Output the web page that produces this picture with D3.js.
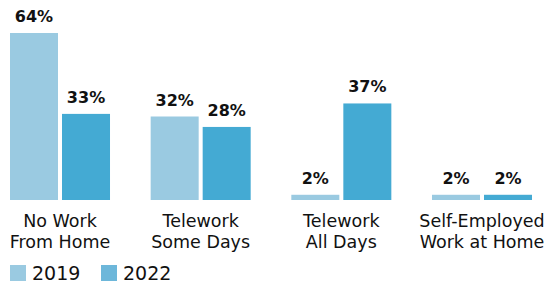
<!DOCTYPE html>
<html>
<head>
<meta charset="utf-8">
<script src="https://cdn.jsdelivr.net/npm/d3@7"></script>
<style>
  body { margin: 0; background: #fff; }
  text { font-family: "DejaVu Sans", sans-serif; fill: #111; }
</style>
</head>
<body>
<div id="chart"></div>
<script>
const categories = [
    ["No Work", "From Home"],
    ["Telework", "Some Days"],
    ["Telework", "All Days"],
    ["Self-Employed", "Work at Home"]
];
const years = ["2019", "2022"];
const values2019 = [64, 32, 2, 2];
const values2022 = [33, 28, 37, 2];

const width = 547,
    height = 285;

const barColor = { "2019": "#9acae1", "2022": "#44aad3" };
const legendColor = { "2019": "#9acae1", "2022": "#6db7da" };

const svg = d3.select("#chart").append("svg")
    .attr("width", width)
    .attr("height", height);

const data = categories.map((c, i) => ({
    key: i,
    label: c,
    values: [
        { year: "2019", v: values2019[i] },
        { year: "2022", v: values2022[i] }
    ]
}));

const x0 = d3.scaleBand()
    .domain(data.map(d => d.key))
    .range([10, 532])
    .paddingInner(0.289)
    .paddingOuter(0);

const x1 = d3.scaleBand()
    .domain(years)
    .range([0, x0.bandwidth()])
    .paddingInner(0.077);

const baseline = 200;
const y = d3.scaleLinear()
    .domain([0, 64])
    .range([baseline, 33]);

const groups = svg.selectAll("g.group")
    .data(data)
    .enter().append("g")
    .attr("class", "group")
    .attr("transform", d => "translate(" + x0(d.key) + ",0)");

groups.selectAll("rect")
    .data(d => d.values)
    .enter().append("rect")
    .attr("x", d => x1(d.year))
    .attr("y", d => y(d.v))
    .attr("width", x1.bandwidth())
    .attr("height", d => baseline - y(d.v))
    .attr("fill", d => barColor[d.year]);

// value labels above the bars
groups.selectAll("text.value")
    .data(d => d.values)
    .enter().append("text")
    .attr("class", "value")
    .attr("x", d => x1(d.year) + x1.bandwidth() / 2)
    .attr("y", d => y(d.v) - 11)
    .attr("text-anchor", "middle")
    .attr("font-size", "16px")
    .attr("font-weight", "bold")
    .text(d => d.v + "%");

// category labels, two lines
groups.append("text")
    .attr("class", "cat")
    .attr("x", x0.bandwidth() / 2)
    .attr("text-anchor", "middle")
    .attr("font-size", "17.5px")
    .selectAll("tspan")
    .data(d => d.label)
    .enter().append("tspan")
    .attr("x", x0.bandwidth() / 2)
    .attr("y", (d, i) => 227 + i * 20.5)
    .text(d => d);

// legend
const legend = svg.append("g")
    .attr("transform", "translate(10,265)");

const item = legend.selectAll("g")
    .data(years)
    .enter().append("g")
    .attr("transform", (d, i) => "translate(" + (i * 91) + ",0)");

item.append("rect")
    .attr("width", 16)
    .attr("height", 16)
    .attr("fill", d => legendColor[d]);

item.append("text")
    .attr("x", 22)
    .attr("y", 15)
    .attr("font-size", "19px")
    .text(d => d);
</script>
</body>
</html>
